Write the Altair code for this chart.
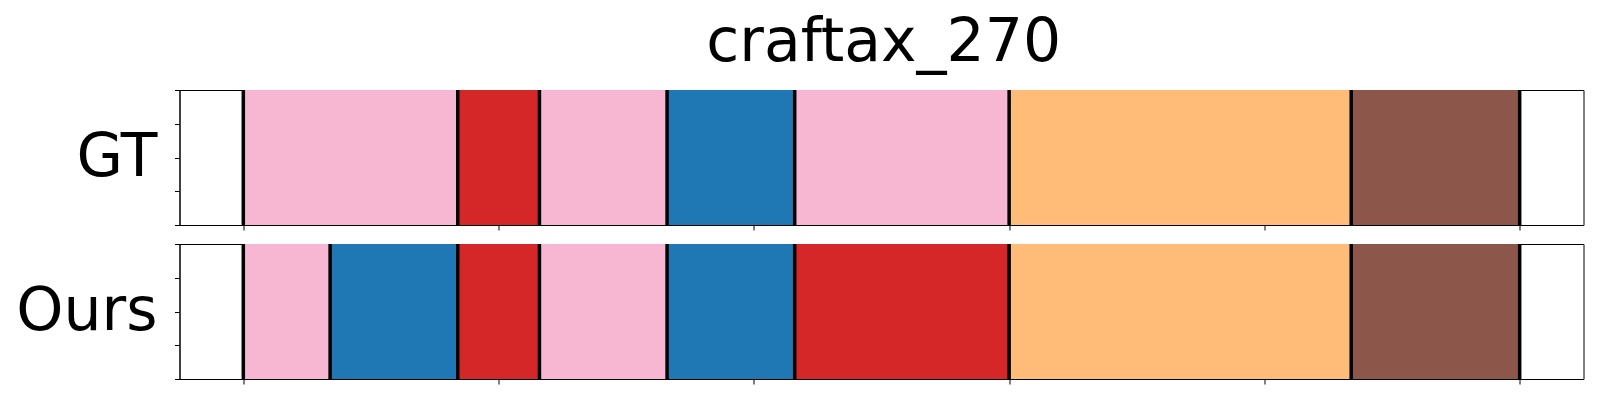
import altair as alt
import pandas as pd

title_text = "craftax_270"
row_names = ["GT", "Ours"]

# segment boundaries (frame index) and the action class of each segment
gt_bounds = [0, 42, 58, 83, 108, 150, 217, 250]
gt_labels = ["pink", "red", "pink", "blue", "pink", "orange", "brown"]
ours_bounds = [0, 17, 42, 58, 83, 108, 150, 217, 250]
ours_labels = ["pink", "blue", "red", "pink", "blue", "red", "orange", "brown"]

class_names = ["blue", "orange", "red", "brown", "pink"]
class_colors = ["#1f77b4", "#ffbb78", "#d62728", "#8c564b", "#f7b6d2"]

x_ticks = [0, 50, 100, 150, 200, 250]
y_ticks = [0, 0.25, 0.5, 0.75, 1]

FONT = "DejaVu Sans"
W, H = 1404, 135


def panel(name, bounds, labels):
    seg = pd.DataFrame({"start": bounds[:-1], "end": bounds[1:], "label": labels})
    seg["y0"] = 0.0
    seg["y1"] = 1.0
    lines = pd.DataFrame({"pos": bounds})
    xs = alt.Scale(domain=[-12.5, 262.5], nice=False, zero=False)
    ys = alt.Scale(domain=[0, 1], nice=False, zero=False)
    rects = alt.Chart(seg).mark_rect(strokeWidth=0).encode(
        x=alt.X("start:Q", scale=xs,
                axis=alt.Axis(values=x_ticks, labels=False, title=None, grid=False,
                              tickSize=5, tickWidth=1, tickColor="black",
                              domainColor="black", domainWidth=1)),
        x2="end:Q",
        y=alt.Y("y0:Q", scale=ys,
                axis=alt.Axis(values=y_ticks, labels=False, grid=False,
                              tickSize=5, tickWidth=1, tickColor="black",
                              domainColor="black", domainWidth=1,
                              title=name, titleAngle=0, titleAlign="right",
                              titleBaseline="middle", titleFontSize=60,
                              titleFont=FONT, titleFontWeight="normal",
                              titleColor="black", titlePadding=17)),
        y2="y1:Q",
        color=alt.Color("label:N", scale=alt.Scale(domain=class_names, range=class_colors),
                        legend=None),
    )
    rules = alt.Chart(lines).mark_rule(color="black", strokeWidth=3.5).encode(
        x=alt.X("pos:Q", scale=xs)
    )
    return alt.layer(rects, rules).properties(width=W, height=H)


chart = alt.vconcat(
    panel(row_names[0], gt_bounds, gt_labels),
    panel(row_names[1], ours_bounds, ours_labels),
    spacing=10,
).properties(
    background="white",
    padding={"left": 6.5, "top": 4, "right": 5, "bottom": 5},
    title=alt.TitleParams(title_text, fontSize=60, font=FONT, fontWeight="normal",
                          color="black", anchor="middle", offset=14, dx=84)
).configure_view(stroke="black", strokeWidth=1)

chart.save("out.html", embed_options={"renderer": "svg", "actions": False})
